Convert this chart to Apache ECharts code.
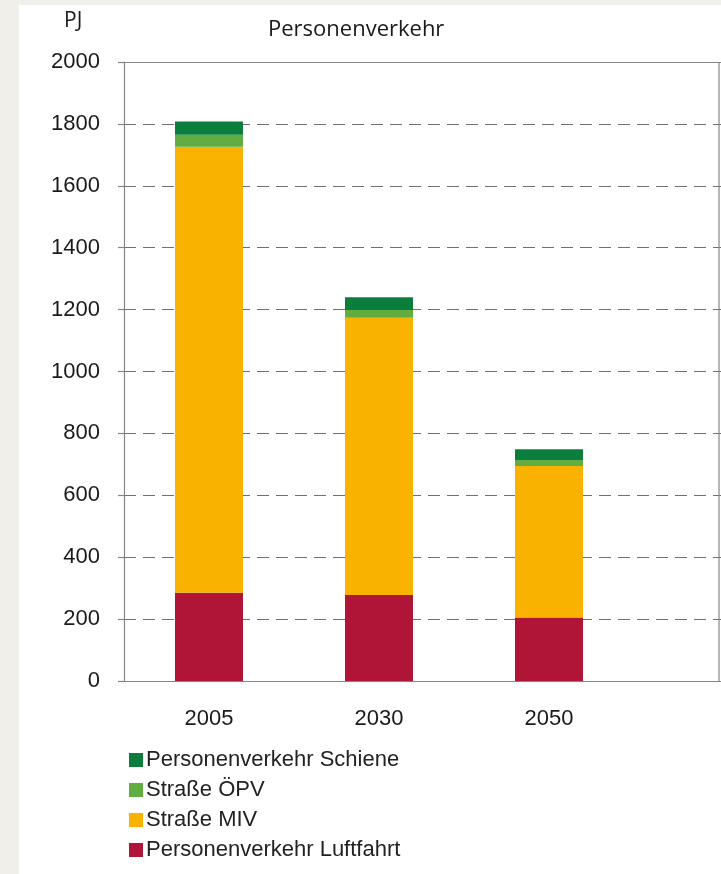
<!DOCTYPE html>
<html>
<head>
<meta charset="utf-8">
<script src="https://cdn.jsdelivr.net/npm/echarts@6/dist/echarts.min.js"></script>
<style>
html,body{margin:0;padding:0;background:#f0efe9;}
#chart{width:721px;height:874px;}
</style>
</head>
<body>
<div id="chart"></div>
<script>
const categories = ['2005', '2030', '2050', ''];
const yTicks = [0, 200, 400, 600, 800, 1000, 1200, 1400, 1600, 1800, 2000];
const luftfahrt = [285, 278, 205, null];
const strasseMIV = [1441, 896, 490, null];
const strasseOEPV = [39, 25, 19, null];
const schiene = [43, 41, 35, null];
const seriesNames = ['Personenverkehr Luftfahrt', 'Straße MIV', 'Straße ÖPV', 'Personenverkehr Schiene'];
const legendOrder = ['Personenverkehr Schiene', 'Straße ÖPV', 'Straße MIV', 'Personenverkehr Luftfahrt'];
const colors = ['#b01538', '#f9b200', '#62ad41', '#0b7d3c'];
const values = [luftfahrt, strasseMIV, strasseOEPV, schiene];

const chart = echarts.init(document.getElementById('chart'));
const axisColor = '#858585';
chart.setOption({
  animation: false,
  backgroundColor: '#f0efe9',
  graphic: [
    { type: 'rect', z: -10, shape: { x: 19, y: 5, width: 710, height: 880 }, style: { fill: '#ffffff' } },
    { type: 'line', z: 10, shape: { x1: 719, y1: 62, x2: 719, y2: 681 }, style: { stroke: axisColor, lineWidth: 1.2 } },
    { type: 'text', left: 64, top: 11, style: { text: 'PJ', font: '21px "Open Sans"', fill: '#1a1a1a' } },
    { type: 'text', left: 268, top: 19, style: { text: 'Personenverkehr', font: '22px "Open Sans"', fill: '#1a1a1a' } }
  ],
  grid: { left: 124, top: 62, width: 680, bottom: 193, outerBoundsMode: 'none' },
  legend: {
    data: legendOrder,
    orient: 'vertical',
    left: 124,
    top: 744,
    itemWidth: 14,
    itemHeight: 14,
    itemGap: 8,
    icon: 'rect',
    selectedMode: false,
    textStyle: { fontFamily: 'Liberation Sans', fontSize: 22, color: '#222', lineHeight: 21, padding: [0, 0, 0, -2] }
  },
  xAxis: [{
    type: 'category',
    data: categories,
    axisLine: { lineStyle: { color: axisColor, width: 1.2 } },
    axisTick: { length: 8, lineStyle: { color: axisColor, width: 1.2 } },
    axisLabel: { fontFamily: 'Liberation Sans', fontSize: 22, color: '#1a1a1a', margin: 27 }
  }, {
    type: 'category',
    position: 'top',
    data: categories,
    axisLine: { lineStyle: { color: axisColor, width: 1.2 } },
    axisTick: { show: false },
    axisLabel: { show: false }
  }],
  yAxis: {
    type: 'value',
    min: yTicks[0],
    max: yTicks[yTicks.length - 1],
    interval: 200,
    axisLine: { show: true, lineStyle: { color: axisColor, width: 1.2 } },
    axisTick: { show: true, inside: false, length: 6, lineStyle: { color: axisColor, width: 1.2 } },
    axisLabel: { fontFamily: 'Liberation Sans', fontSize: 22, color: '#1a1a1a', margin: 24, formatter: v => String(v) },
    splitLine: { show: true, lineStyle: { color: '#707070', type: [12, 7], width: 1.2 } }
  },
  series: seriesNames.map((name, i) => ({
    name: name,
    type: 'bar',
    stack: 'total',
    barWidth: 68,
    data: values[i],
    itemStyle: { color: colors[i] }
  }))
});
</script>
</body>
</html>
